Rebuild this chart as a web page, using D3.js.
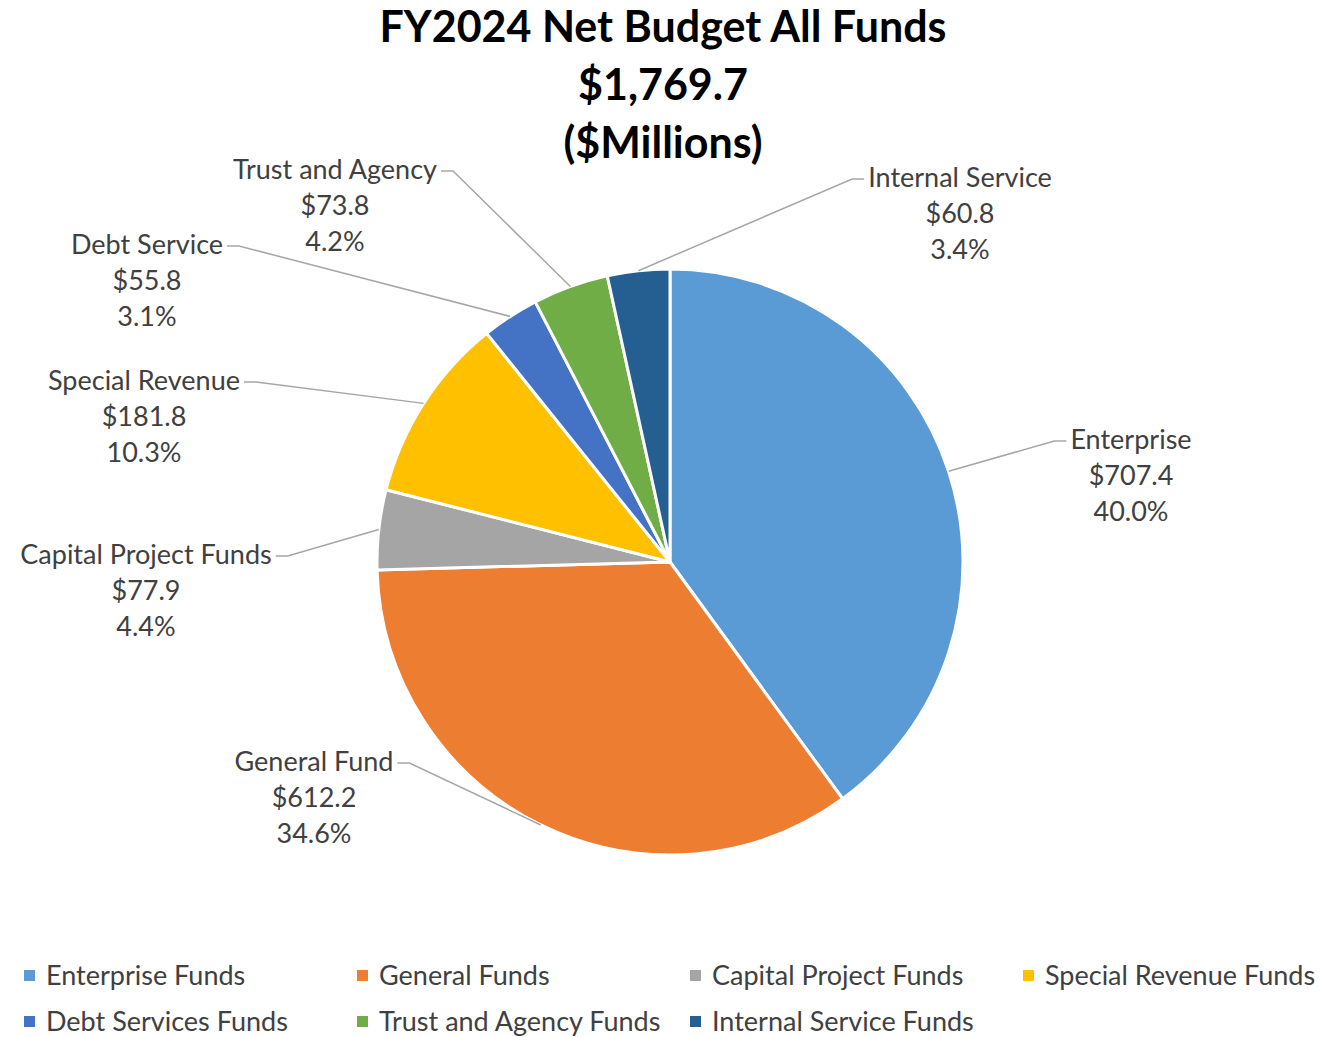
<!DOCTYPE html>
<html>
<head>
<meta charset="utf-8">
<script src="https://cdn.jsdelivr.net/npm/d3@7"></script>
<style>
  body { margin: 0; background: #fff; }
  text { font-family: Lato, "Open Sans", sans-serif; }
</style>
</head>
<body>
<div id="chart"></div>
<script>
// data ($ millions)
const funds = ["Enterprise", "General Fund", "Capital Project Funds", "Special Revenue", "Debt Service", "Trust and Agency", "Internal Service"]
const amounts = [707.4, 612.2, 77.9, 181.8, 55.8, 73.8, 60.8]
const percents = ["40.0%", "34.6%", "4.4%", "10.3%", "3.1%", "4.2%", "3.4%"]
const legendNames = ["Enterprise Funds", "General Funds", "Capital Project Funds", "Special Revenue Funds",
                     "Debt Services Funds", "Trust and Agency Funds", "Internal Service Funds"]
const titleLines = ["FY2024 Net Budget All Funds", "$1,769.7", "($Millions)"]

const colors = ["#5B9BD5", "#ED7D31", "#A5A5A5", "#FFC000", "#4472C4", "#70AD47", "#255E91"]

// where the data labels sit (center x, baseline of first line), hand placed like the original
const labelPos = [
  { x: 1131, y: 449, side: "right" },
  { x: 314, y: 771, side: "left" },
  { x: 146, y: 564, side: "left" },
  { x: 144, y: 390, side: "left" },
  { x: 147, y: 254, side: "left" },
  { x: 335, y: 179, side: "left" },
  { x: 960, y: 187, side: "right" }
]

const width = 1321, height = 1037
const cx = 670, cy = 562, radius = 293

const svg = d3.select("#chart").append("svg")
  .attr("width", width)
  .attr("height", height)

// title
svg.append("g").selectAll("text")
  .data(titleLines)
  .join("text")
    .attr("x", 663)
    .attr("y", (d, i) => 42 + i * 58)
    .attr("text-anchor", "middle")
    .attr("font-size", 43)
    .attr("font-weight", "bold")
    .attr("fill", "#000")
    .text(d => d)

const data = funds.map((f, i) => ({ name: f, value: amounts[i], pct: percents[i], i: i }))

const pie = d3.pie().sort(null).value(d => d.value)
const arcs = pie(data)
const arc = d3.arc().innerRadius(0).outerRadius(radius)

const g = svg.append("g").attr("transform", "translate(" + cx + "," + cy + ")")

g.selectAll("path")
  .data(arcs)
  .join("path")
    .attr("d", arc)
    .attr("fill", d => colors[d.data.i])
    .attr("stroke", "#fff")
    .attr("stroke-width", 3)
    .attr("stroke-linejoin", "round")

// data labels + leader lines
const labels = svg.append("g")
arcs.forEach(a => {
  const p = labelPos[a.data.i]
  const t = labels.append("text")
    .attr("text-anchor", "middle")
    .attr("font-size", 27)
    .attr("fill", "#404040")
  const lines = [a.data.name, "$" + a.data.value.toFixed(1), a.data.pct]
  lines.forEach((l, k) => {
    t.append("tspan").attr("x", p.x).attr("y", p.y + k * 36).text(l)
  })
  const w = t.select("tspan").node().getComputedTextLength()
  const mid = (a.startAngle + a.endAngle) / 2
  const ex = cx + radius * Math.sin(mid)
  const ey = cy - radius * Math.cos(mid)
  const ly = p.y - 8
  let x0, x1
  if (p.side === "left") { x0 = p.x + w / 2 + 4; x1 = x0 + 12 }
  else { x0 = p.x - w / 2 - 4; x1 = x0 - 12 }
  labels.append("path")
    .attr("d", d3.line()([[x0, ly], [x1, ly], [ex, ey]]))
    .attr("fill", "none")
    .attr("stroke", "#A6A6A6")
    .attr("stroke-width", 1.5)
})

// legend
const legend = svg.append("g")
legendNames.forEach((n, i) => {
  const col = i % 4, row = Math.floor(i / 4)
  const lx = 24 + col * 333, ly = 976 + row * 46
  legend.append("rect")
    .attr("x", lx).attr("y", ly - 6)
    .attr("width", 11).attr("height", 11)
    .attr("fill", colors[i])
  legend.append("text")
    .attr("x", lx + 22).attr("y", ly + 9)
    .attr("font-size", 27)
    .attr("fill", "#404040")
    .text(n)
})
</script>
</body>
</html>
